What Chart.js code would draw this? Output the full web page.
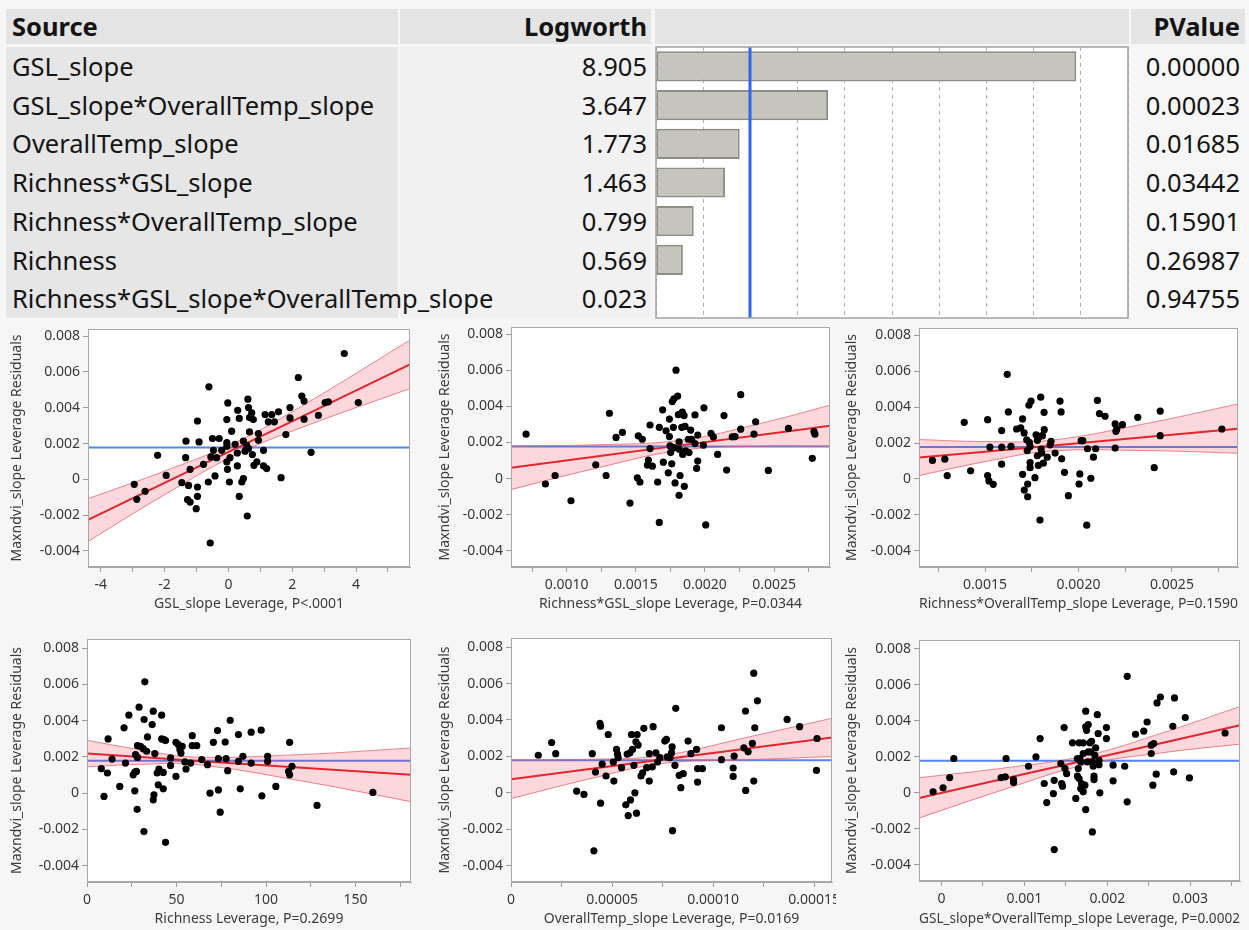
<!DOCTYPE html>
<html>
<head>
<meta charset="utf-8">
<title>Effect summary and leverage plots</title>
<script src="https://cdn.jsdelivr.net/npm/chart.js@4.4.1/dist/chart.umd.min.js"></script>
<style>
  html, body { margin: 0; padding: 0; }
  body {
    width: 1249px; height: 930px; position: relative; overflow: hidden;
    background: #f6f6f6; color: #141414;
    font-family: "Noto Sans", "Open Sans", sans-serif;
  }
  .cell { position: absolute; box-sizing: border-box; white-space: nowrap; font-size: 25.5px; }
  .head { background: #e4e4e4; font-weight: bold; }
  canvas { position: absolute; }
</style>
</head>
<body>
<div id="summary"></div>
<canvas id="logworthBars"></canvas>
<canvas id="plotGsl"></canvas>
<canvas id="plotRichGsl"></canvas>
<canvas id="plotRichTemp"></canvas>
<canvas id="plotRich"></canvas>
<canvas id="plotTemp"></canvas>
<canvas id="plotGslTemp"></canvas>
<script>
// effect summary
const sources = ['GSL_slope', 'GSL_slope*OverallTemp_slope', 'OverallTemp_slope', 'Richness*GSL_slope',
  'Richness*OverallTemp_slope', 'Richness', 'Richness*GSL_slope*OverallTemp_slope'];
const logworth = [8.905, 3.647, 1.773, 1.463, 0.799, 0.569, 0.023];
const pValues = ['0.00000', '0.00023', '0.01685', '0.03442', '0.15901', '0.26987', '0.94755'];
const logworthRef = 2;   // p = 0.01
const logworthMax = 10;

// mean of the response, drawn as the horizontal reference line
const residualMean = 0.00178;
const yTicks = [0.008, 0.006, 0.004, 0.002, 0, -0.002, -0.004];
const yTickText = ['0.008', '0.006', '0.004', '0.002', '0', '-0.002', '-0.004'];
const yTitle = 'Maxndvi_slope Leverage Residuals';

// GSL_slope
const gslX = [3.63,4.07,3.13,3.03,2.82,2.37,2.37,2.30,2.19,1.93,1.93,1.80,2.59,1.65,1.57,1.44,1.36,1.15,1.25,1.10,1.20,1.10,0.94,0.94,0.89,0.80,0.78,0.75,0.73,0.63,0.61,0.66,0.66,0.57,0.63,0.52,0.47,0.59,0.47,0.42,0.34,0.34,0.29,0.28,0.28,0.21,0.10,0.05,0.03,-0.02,-0.05,-0.05,-0.05,-0.05,-0.03,-0.21,-0.29,-0.37,-0.42,-0.47,-0.55,-0.50,-0.61,-0.63,-0.57,-0.78,-0.92,-0.97,-0.97,-0.97,-1.01,-1.20,-1.20,-1.28,-1.25,-1.33,-1.34,-1.46,-1.95,-2.22,-2.61,-2.87,-2.95];
const gslY = [0.00703,0.00429,0.00433,0.00429,0.00358,0.00336,0.00437,0.00465,0.00569,0.00401,0.00343,0.0025,0.00151,0.00009,0.00377,0.00321,0.00362,0.00362,0.00321,0.00162,0.0006,0.00075,0.00256,0.00218,0.00097,0.00078,0.00334,0.00138,0.00371,0.00401,0.00448,0.00345,0.00265,0.0019,0.00172,0.00157,0.00213,-0.00205,0.00004,-0.00015,-0.00095,0.0034,0.00386,0.00147,0.00075,0.00196,0.00269,0.00121,-0.00015,0.00427,0.00334,0.00205,0.00185,0.00097,0.00056,0.00162,0.00228,0.00121,0.00019,0.00162,0.00125,0.00228,0.00517,-0.00015,-0.00356,0.00084,0.00209,0.00326,-0.00043,-0.00095,-0.00164,0.00056,-0.00127,-0.00114,-0.00034,0.00213,0.00121,-0.00019,0.00022,0.00134,-0.00067,-0.00112,-0.00028];
const gslFitX = [-4.4, -2, 0.3, 2.5, 5.69];
const gslFit = [-0.00226, -0.0002, 0.00178, 0.00367, 0.00642];
const gslHi = [-0.00108, 0.00046, 0.00213, 0.00431, 0.00778];
const gslLo = [-0.00347, -0.00086, 0.00143, 0.00303, 0.00507];

// Richness*GSL_slope
const richGslX = [0.000706,0.000846,0.000916,0.001031,0.00121,0.001285,0.001309,0.001357,0.001403,0.001458,0.001518,0.001547,0.001511,0.00153,0.001603,0.001603,0.001591,0.001584,0.00162,0.00167,0.001658,0.00167,0.001694,0.001699,0.001719,0.001735,0.001743,0.001743,0.001748,0.001752,0.00176,0.001764,0.001776,0.001772,0.001776,0.001784,0.001791,0.001803,0.001808,0.001813,0.001815,0.001813,0.00182,0.001832,0.001837,0.001839,0.001849,0.001856,0.001851,0.001861,0.00188,0.001897,0.001885,0.001904,0.001928,0.001928,0.00194,0.001948,0.001948,0.001989,0.001993,0.002006,0.002044,0.002061,0.002092,0.002138,0.002157,0.002198,0.002218,0.002259,0.002259,0.002355,0.002367,0.002459,0.002604,0.002777,0.002789,0.002796];
const richGslY = [0.00246,-0.0003,0.00017,-0.00123,0.00076,0.00017,0.00362,0.00228,0.00256,-0.00136,0.00237,0.00218,0.00004,-0.00019,0.00297,0.00166,0.00103,0.00075,0.00069,0.00284,-0.00019,-0.00243,0.00381,0.00091,0.00265,0.00032,0.0033,0.00233,0.00181,0.00144,0.00082,0.00427,0.00442,0.00284,0.00172,-0.00024,0.00601,0.00457,0.00354,0.00203,0.00162,-0.00093,0.00017,0.00284,0.00368,0.00134,0.00349,0.00289,-0.00043,0.00153,0.00218,0.00269,0.00144,0.00218,0.00194,0.00353,0.00056,0.00097,0.00241,0.00185,0.00392,-0.00257,0.0025,0.00231,0.00134,0.00349,0.00047,0.00231,0.00233,0.00465,0.00274,0.00246,0.00315,0.00045,0.00278,0.00112,0.00261,0.00246];
const richGslFitX = [0.000597, 0.0012, 0.00182, 0.0024, 0.002905];
const richGslFit = [0.0006, 0.00121, 0.00184, 0.00242, 0.00293];
const richGslHi = [0.00181, 0.00187, 0.00212, 0.00305, 0.00407];
const richGslLo = [-0.00061, 0.00055, 0.00156, 0.00179, 0.00179];

// Richness*OverallTemp_slope
const richTempX = [0.001219,0.001285,0.001298,0.001389,0.001423,0.001514,0.001514,0.001521,0.001544,0.001526,0.001589,0.001589,0.001589,0.001619,0.001625,0.001639,0.001669,0.001691,0.001701,0.001709,0.001701,0.00171,0.001723,0.001726,0.001728,0.001728,0.001735,0.001746,0.001737,0.001741,0.001741,0.001741,0.001767,0.001773,0.00178,0.00178,0.001785,0.001794,0.001798,0.0018,0.001803,0.001807,0.001816,0.001817,0.001812,0.001833,0.001848,0.001853,0.001875,0.001901,0.001907,0.00191,0.001925,0.001946,0.002007,0.002003,0.002014,0.002023,0.002048,0.002044,0.002066,0.00208,0.002092,0.002101,0.002112,0.002142,0.002196,0.0022,0.002205,0.002196,0.002235,0.002317,0.002405,0.002437,0.002437,0.002767,0.001794];
const richTempY = [0.00103,0.0011,0.00019,0.00315,0.00045,0.0033,0.00019,-0.00011,-0.0003,0.00177,0.00269,0.00177,0.00082,0.00582,0.00373,0.00181,0.00278,0.00284,0.00334,0.00256,0.00026,-0.00062,0.00218,0.00157,-0.00099,-0.00028,0.0041,0.00433,0.00203,0.00181,0.00091,0.00063,0.00007,0.00246,0.00215,0.00129,0.00075,0.00237,0.00455,0.00166,0.00144,0.00241,0.00371,0.00274,0.00088,0.00121,0.0019,0.00209,0.00144,0.00433,0.00373,0.00112,0.00037,-0.00093,0.00028,-0.00028,0.00213,0.00213,0.00168,-0.00257,0.00004,0.00121,0.00168,0.00437,0.00364,0.00349,0.00306,0.00265,0.00278,0.00172,0.00302,0.00343,0.00063,0.00377,0.00241,0.00278,-0.00229];
const richTempFitX = [0.001147, 0.0015, 0.00185, 0.00235, 0.002853];
const richTempFit = [0.00119, 0.00152, 0.00185, 0.00232, 0.0028];
const richTempHi = [0.00219, 0.00208, 0.00215, 0.00306, 0.00417];
const richTempLo = [0.00019, 0.00096, 0.00155, 0.00158, 0.00143];

// Richness
const richX = [8.0,9.5,11.4,11.8,14.0,18.3,20.7,21.5,23.4,25.8,26.7,26.7,27.1,27.6,28.0,28.2,28.2,29.1,29.9,31.4,31.9,32.3,31.8,33.3,33.8,36.4,37.0,37.9,37.4,37.0,39.2,40.2,39.8,41.7,42.6,42.6,43.0,43.9,41.7,43.9,46.7,46.7,49.7,49.7,51.0,51.9,52.5,53.2,54.7,55.3,57.9,58.8,58.8,61.3,64.1,67.3,68.7,70.6,72.9,73.4,73.4,74.4,77.2,77.7,78.6,80.0,84.6,84.6,85.6,87.1,91.7,91.7,97.3,97.7,100.9,100.9,105.5,113.2,112.6,113.2,114.5,128.5,159.7];
const richY = [0.00135,-0.00018,0.00111,0.00299,0.00188,0.00037,0.0036,0.00166,0.0043,0.00101,0.00116,0.00013,0.00212,0.0012,-0.00089,0.00197,0.00262,0.00474,0.00258,0.00245,0.00406,0.00614,-0.00212,0.00231,0.0031,0.00378,0.00452,0.00218,-0.00009,-0.00037,0.00111,0.00133,0.00046,0.00299,0.00114,0.00024,0.00295,-0.00271,0.0043,0.0029,0.00194,0.00153,0.00092,0.0028,0.00268,0.0024,0.00221,0.00258,0.00172,0.00133,0.00166,0.00317,0.00262,0.00262,0.00185,0.00157,0,0.0028,0.00345,0.0019,0.00018,-0.00105,0.00282,0.0019,0.00124,0.00402,0.00323,0.00175,0.00024,0.00203,0.00166,0.00336,0.00347,-0.00015,0.00203,0.00175,0.00037,0.0028,0.0012,0.00101,0.00148,-0.00068,0.00004];
const richFitX = [0, 30, 60, 120, 181];
const richFit = [0.00218, 0.00199, 0.00179, 0.0014, 0.00101];
const richHi = [0.00291, 0.00239, 0.00199, 0.00213, 0.00249];
const richLo = [0.00145, 0.00159, 0.00159, 0.00067, -0.00047];

// OverallTemp_slope
const tempX = [0.0000135,0.0000201,0.0000221,0.0000325,0.0000361,0.0000402,0.0000418,0.000041,0.000044,0.0000443,0.0000451,0.0000443,0.000047,0.0000481,0.0000506,0.0000509,0.0000522,0.0000527,0.000053,0.0000547,0.0000568,0.000058,0.0000575,0.0000588,0.0000591,0.0000596,0.0000601,0.0000608,0.0000613,0.0000618,0.0000621,0.0000624,0.0000629,0.0000643,0.0000651,0.0000657,0.0000671,0.0000684,0.0000684,0.0000699,0.0000703,0.0000717,0.0000725,0.0000736,0.0000761,0.0000769,0.0000773,0.0000786,0.0000794,0.0000797,0.0000799,0.0000811,0.0000815,0.0000832,0.000084,0.0000852,0.0000876,0.000089,0.0000918,0.0000923,0.0000923,0.0000947,0.0001041,0.0001041,0.0001099,0.0001099,0.0001104,0.000116,0.0001152,0.0001161,0.0001173,0.0001194,0.0001201,0.0001206,0.0001201,0.0001219,0.0001366,0.0001428,0.0001514,0.0001511];
const tempY = [0.00206,0.00276,0.00215,0.00009,-0.00009,0.00215,0.00114,-0.00319,0.00381,0.00366,0.00157,-0.00057,0.00092,0.0032,0.00169,0.00064,0.00238,0.00212,0.00193,0.00138,-0.00066,-0.00125,0.00212,0.00219,-0.00039,0.0032,0.00238,0.00151,0,0.0028,-0.00112,0.0032,0.00262,0.00092,0.0011,0.00354,0.00138,0.00215,0.00064,0.00142,0.00363,0.00219,0.00169,0.00193,0.00284,0.00293,0.00197,0.00193,0.00219,0.00252,-0.00208,0.00151,0.00464,0.00096,0.00028,0.00105,0.00284,0.00215,0.00238,0.00059,0.00133,0.00133,0.00357,0.00182,0.00136,0.0009,0.00201,0.00449,0.00247,0.00013,0.00225,0.00271,0.00657,0.00357,0.00064,0.00505,0.00403,0.00363,0.00298,0.00123];
const tempFitX = [0, 0.000038, 0.000075, 0.000117, 0.0001588];
const tempFit = [0.00074, 0.00129, 0.00183, 0.00243, 0.00304];
const tempHi = [0.0018, 0.00184, 0.00205, 0.00305, 0.00409];
const tempLo = [-0.00032, 0.00074, 0.00161, 0.00181, 0.00199];

// GSL_slope*OverallTemp_slope
const gslTempX = [-0.0001,0.00002,0.0001,0.00015,0.00072,0.00077,0.00078,0.00087,0.00087,0.00105,0.00114,0.00119,0.00124,0.00127,0.00135,0.00136,0.00145,0.00146,0.00144,0.00148,0.00149,0.00151,0.00158,0.00162,0.00164,0.00164,0.00165,0.00166,0.00166,0.00167,0.00168,0.00168,0.00169,0.00171,0.00171,0.00171,0.00173,0.00174,0.00174,0.00174,0.00175,0.00176,0.00177,0.00177,0.00179,0.0018,0.00181,0.00182,0.00183,0.00182,0.00184,0.00184,0.00185,0.00186,0.00188,0.00189,0.0019,0.00191,0.0019,0.00199,0.00199,0.00207,0.00207,0.00136,0.00221,0.00224,0.00224,0.00234,0.00244,0.00248,0.00253,0.00253,0.00256,0.00255,0.00259,0.0026,0.00264,0.00279,0.0028,0.00281,0.00294,0.00299,0.00342];
const gslTempY = [0.00006,0.00028,0.00085,0.00191,0.00085,0.00089,0.00191,0.00074,0.00057,0.00148,0.002,0.00302,0.00052,-0.00054,-0.00004,0.0007,0.00052,0.00037,0.00163,0.00363,0.00135,0.00107,0.00278,-0.00031,0.00191,0.00093,0.00135,0.00278,0.0008,0.00191,0.00024,0.00172,0.00052,0.00278,0.00006,0.00219,0.00043,-0.00093,0.00454,0.00367,0.00348,0.00172,0.00228,0.0038,0.00278,0.00228,0.00287,0.00172,0.00148,-0.00217,0.00093,0.00074,0.00209,0.0025,0.00435,0.0033,0.00181,0,0.00157,0.00363,0.00302,0.00154,0.00067,-0.00315,0.00148,0.00648,-0.0005,0.00326,0.00343,0.00394,0.00219,0.00265,0.00274,0.00043,0.00104,0.005,0.00533,0.0037,0.00117,0.00528,0.00419,0.00083,0.00333];
const gslTempFitX = [-0.00027, 0.00075, 0.00175, 0.0027, 0.0036];
const gslTempFit = [-0.00028, 0.00078, 0.00183, 0.00282, 0.00376];
const gslTempHi = [0.00084, 0.00138, 0.00208, 0.00339, 0.0048];
const gslTempLo = [-0.0014, 0.00018, 0.00158, 0.00225, 0.00271];

Chart.defaults.font.family = '"Noto Sans", "Open Sans", sans-serif';

const TICK_SIZE = 14, TITLE_SIZE = 14;
const TICK_COLOR = '#383838', TITLE_COLOR = '#3c3c3c';

// ---------- summary table ----------
const HEAD_TOP = 9, HEAD_H = 35, ROW_TOP = 47, ROW_H = 38.7;
const cols = {
  source: { left: 6, width: 392 },
  logworth: { left: 400, width: 251 },
  bars: { left: 655, width: 474 },
  pvalue: { left: 1131, width: 114 }
};

const summary = document.getElementById('summary');
function cell(col, top, height, text, opts) {
  const d = document.createElement('div');
  d.className = 'cell' + (opts.head ? ' head' : '');
  d.style.left = col.left + 'px';
  d.style.width = col.width + 'px';
  d.style.top = top + 'px';
  d.style.height = height + 'px';
  d.style.lineHeight = height + 'px';
  d.style.textAlign = opts.align || 'left';
  if (opts.bg) d.style.background = opts.bg;
  if (opts.pad) d.style.padding = opts.pad;
  d.textContent = text;
  summary.appendChild(d);
}

cell(cols.source, HEAD_TOP, HEAD_H, 'Source', { head: true, pad: '0 0 0 6px' });
cell(cols.logworth, HEAD_TOP, HEAD_H, 'Logworth', { head: true, align: 'right', pad: '0 4px 0 0' });
cell(cols.bars, HEAD_TOP, HEAD_H, '', { head: true });
cell(cols.pvalue, HEAD_TOP, HEAD_H, 'PValue', { head: true, align: 'right', pad: '0 5px 0 0' });

const bodyH = ROW_H * sources.length;
cell(cols.source, ROW_TOP, bodyH, '', { bg: '#e6e6e6' });
cell(cols.logworth, ROW_TOP, bodyH, '', { bg: '#f1f1f1' });

sources.forEach((s, i) => {
  const top = ROW_TOP + i * ROW_H;
  cell(cols.source, top, ROW_H, s, { pad: '0 0 0 6px' });
  cell(cols.logworth, top, ROW_H, logworth[i].toFixed(3), { align: 'right', pad: '0 4px 0 0' });
  cell(cols.pvalue, top, ROW_H, pValues[i], { align: 'right', pad: '0 5px 0 0' });
});

// ---------- logworth bars ----------
const barFrame = {
  id: 'barFrame',
  beforeDraw(chart) {
    const { ctx, chartArea: a } = chart;
    ctx.save();
    ctx.fillStyle = '#ffffff';
    ctx.fillRect(a.left, a.top, a.right - a.left, a.bottom - a.top);
    ctx.restore();
  },
  afterDatasetsDraw(chart) {
    const { ctx, chartArea: a, scales: { x } } = chart;
    const px = Math.round(x.getPixelForValue(logworthRef));
    ctx.save();
    ctx.strokeStyle = '#2f66f0';
    ctx.lineWidth = 3;
    ctx.beginPath();
    ctx.moveTo(px, a.top);
    ctx.lineTo(px, a.bottom);
    ctx.stroke();
    ctx.strokeStyle = '#a2a2a2';
    ctx.lineWidth = 1.5;
    ctx.strokeRect(a.left, a.top, a.right - a.left, a.bottom - a.top);
    ctx.restore();
  }
};

const barCanvas = document.getElementById('logworthBars');
barCanvas.width = 475;
barCanvas.height = 273;
barCanvas.style.left = '655px';
barCanvas.style.top = '46px';

new Chart(barCanvas, {
  type: 'bar',
  data: {
    labels: sources,
    datasets: [{
      data: logworth,
      backgroundColor: '#c5c5bd',
      borderColor: '#8e8e87',
      borderWidth: 2,
      borderSkipped: false,
      barPercentage: 0.78,
      categoryPercentage: 1
    }]
  },
  options: {
    indexAxis: 'y',
    responsive: false,
    animation: false,
    devicePixelRatio: 1,
    events: [],
    layout: { padding: { left: 1, top: 1, right: 2, bottom: 1 } },
    plugins: { legend: { display: false }, tooltip: { enabled: false } },
    scales: {
      x: {
        min: 0,
        max: logworthMax,
        ticks: { display: false, stepSize: 1 },
        grid: { color: '#b4b4b4', drawTicks: false },
        border: { display: false, dash: [4, 4] },
        afterFit: s => { s.height = 0; }
      },
      y: { display: false }
    }
  },
  plugins: [barFrame]
});

// ---------- leverage plots ----------
const plotFrame = {
  id: 'plotFrame',
  beforeDraw(chart) {
    const { ctx, chartArea: a } = chart;
    ctx.save();
    ctx.fillStyle = '#ffffff';
    ctx.fillRect(a.left, a.top, a.right - a.left, a.bottom - a.top);
    ctx.restore();
  },
  afterDraw(chart) {
    const { ctx, chartArea: a } = chart;
    ctx.save();
    ctx.strokeStyle = '#a8a8a8';
    ctx.lineWidth = 1;
    ctx.strokeRect(a.left + 0.5, a.top + 0.5, a.right - a.left - 1, a.bottom - a.top - 1);
    ctx.restore();
  }
};

function pairs(xs, ys) {
  const n = Math.min(xs.length, ys.length);
  const out = [];
  for (let i = 0; i < n; i++) out.push({ x: xs[i], y: ys[i] });
  return out;
}

function tickText(v, values, texts) {
  const i = values.findIndex(m => Math.abs(m - v) < 1e-12);
  return i < 0 ? '' : texts[i];
}

function leveragePlot(id, p) {
  const cv = document.getElementById(id);
  cv.width = p.canvas.w;
  cv.height = p.canvas.h;
  cv.style.left = p.canvas.l + 'px';
  cv.style.top = p.canvas.t + 'px';

  const half = TITLE_SIZE * 1.2 / 2;
  const yAxisLeft = p.yTitleX - half;
  const xAxisBottom = p.xTitleY + half;
  const yW = p.area.l - yAxisLeft;
  const xH = xAxisBottom - p.area.b;
  const pad = {
    left: yAxisLeft - p.canvas.l,
    top: p.area.t - p.canvas.t,
    right: p.canvas.l + p.canvas.w - p.area.r,
    bottom: p.canvas.t + p.canvas.h - xAxisBottom
  };
  const xTickVals = p.xMajor.concat(p.xMinor).sort((a, b) => a - b);

  new Chart(cv, {
    type: 'scatter',
    data: {
      datasets: [
        {
          data: pairs(p.x, p.y),
          pointRadius: 3.6,
          pointBackgroundColor: '#000000',
          pointBorderWidth: 0,
          order: 0
        },
        {
          data: pairs(p.fitX, p.fit),
          showLine: true,
          pointRadius: 0,
          borderColor: '#e3262e',
          borderWidth: 2,
          order: 1
        },
        {
          data: pairs(p.fitX, p.hi),
          showLine: true,
          pointRadius: 0,
          tension: 0.4,
          borderColor: 'rgba(236, 96, 110, 0.75)',
          borderWidth: 1,
          fill: '+1',
          backgroundColor: 'rgba(240, 40, 60, 0.18)',
          order: 2
        },
        {
          data: pairs(p.fitX, p.lo),
          showLine: true,
          pointRadius: 0,
          tension: 0.4,
          borderColor: 'rgba(236, 96, 110, 0.75)',
          borderWidth: 1,
          order: 3
        },
        {
          data: [{ x: p.xMin, y: residualMean }, { x: p.xMax, y: residualMean }],
          showLine: true,
          pointRadius: 0,
          borderColor: '#5585ee',
          borderWidth: 2,
          order: 4
        }
      ]
    },
    options: {
      responsive: false,
      animation: false,
      devicePixelRatio: 1,
      events: [],
      layout: { padding: pad },
      plugins: { legend: { display: false }, tooltip: { enabled: false } },
      scales: {
        x: {
          type: 'linear',
          min: p.xMin,
          max: p.xMax,
          afterBuildTicks: s => { s.ticks = xTickVals.map(v => ({ value: v })); },
          afterFit: s => { s.height = xH; s.paddingLeft = 0; s.paddingRight = 0; },
          ticks: {
            autoSkip: false,
            maxRotation: 0,
            padding: 5,
            color: TICK_COLOR,
            font: { size: TICK_SIZE },
            callback: v => tickText(v, p.xMajor, p.xMajorText)
          },
          grid: { drawOnChartArea: false, tickLength: 5, tickColor: '#9b9b9b' },
          border: { color: '#a8a8a8' },
          title: { display: true, text: p.xTitle, padding: 0, color: TITLE_COLOR, font: { size: TITLE_SIZE } }
        },
        y: {
          type: 'linear',
          min: p.yMin,
          max: p.yMax,
          afterBuildTicks: s => { s.ticks = yTicks.map(v => ({ value: v })); },
          afterFit: s => { s.width = yW; s.paddingTop = 0; s.paddingBottom = 0; },
          ticks: {
            padding: 3,
            color: TICK_COLOR,
            font: { size: TICK_SIZE },
            callback: v => tickText(v, yTicks, yTickText)
          },
          grid: { drawOnChartArea: false, tickLength: 5, tickColor: '#9b9b9b' },
          border: { color: '#a8a8a8' },
          title: { display: true, text: yTitle, padding: 0, color: TITLE_COLOR, font: { size: TITLE_SIZE } }
        }
      }
    },
    plugins: [plotFrame]
  });
}

leveragePlot('plotGsl', {
  canvas: { l: 0, t: 316, w: 418, h: 300 }, area: { l: 88, r: 410, t: 329, b: 567 },
  yTitleX: 17, xTitleY: 604,
  x: gslX, y: gslY, fitX: gslFitX, fit: gslFit, hi: gslHi, lo: gslLo,
  xMin: -4.4, xMax: 5.69, yMin: -0.0049, yMax: 0.0084,
  xMajor: [-4, -2, 0, 2, 4], xMajorText: ['-4', '-2', '0', '2', '4'], xMinor: [-3, -1, 1, 3, 5],
  xTitle: 'GSL_slope Leverage, P<.0001'
});

leveragePlot('plotRichGsl', {
  canvas: { l: 420, t: 316, w: 414, h: 300 }, area: { l: 511, r: 830, t: 327, b: 567 },
  yTitleX: 445, xTitleY: 604,
  x: richGslX, y: richGslY, fitX: richGslFitX, fit: richGslFit, hi: richGslHi, lo: richGslLo,
  xMin: 0.000597, xMax: 0.002905, yMin: -0.0049, yMax: 0.0084,
  xMajor: [0.001, 0.0015, 0.002, 0.0025], xMajorText: ['0.0010', '0.0015', '0.0020', '0.0025'],
  xMinor: [0.00075, 0.00125, 0.00175, 0.00225, 0.00275],
  xTitle: 'Richness*GSL_slope Leverage, P=0.0344'
});

leveragePlot('plotRichTemp', {
  canvas: { l: 835, t: 316, w: 414, h: 300 }, area: { l: 919, r: 1238, t: 328, b: 567 },
  yTitleX: 852, xTitleY: 604,
  x: richTempX, y: richTempY, fitX: richTempFitX, fit: richTempFit, hi: richTempHi, lo: richTempLo,
  xMin: 0.001147, xMax: 0.002853, yMin: -0.0049, yMax: 0.0084,
  xMajor: [0.0015, 0.002, 0.0025], xMajorText: ['0.0015', '0.0020', '0.0025'],
  xMinor: [0.00125, 0.00175, 0.00225, 0.00275],
  xTitle: 'Richness*OverallTemp_slope Leverage, P=0.1590'
});

leveragePlot('plotRich', {
  canvas: { l: 0, t: 626, w: 418, h: 304 }, area: { l: 87, r: 411, t: 639, b: 882 },
  yTitleX: 17, xTitleY: 919,
  x: richX, y: richY, fitX: richFitX, fit: richFit, hi: richHi, lo: richLo,
  xMin: 0, xMax: 181, yMin: -0.0049, yMax: 0.0085,
  xMajor: [0, 50, 100, 150], xMajorText: ['0', '50', '100', '150'], xMinor: [25, 75, 125, 175],
  xTitle: 'Richness Leverage, P=0.2699'
});

leveragePlot('plotTemp', {
  canvas: { l: 420, t: 626, w: 416, h: 304 }, area: { l: 511, r: 832, t: 638, b: 882 },
  yTitleX: 445, xTitleY: 919,
  x: tempX, y: tempY, fitX: tempFitX, fit: tempFit, hi: tempHi, lo: tempLo,
  xMin: 0, xMax: 0.0001588, yMin: -0.0049, yMax: 0.0085,
  xMajor: [0, 0.00005, 0.0001, 0.00015], xMajorText: ['0', '0.00005', '0.00010', '0.00015'],
  xMinor: [0.000025, 0.000075, 0.000125],
  xTitle: 'OverallTemp_slope Leverage, P=0.0169'
});

leveragePlot('plotGslTemp', {
  canvas: { l: 835, t: 626, w: 414, h: 304 }, area: { l: 919, r: 1240, t: 640, b: 881 },
  yTitleX: 852, xTitleY: 919,
  x: gslTempX, y: gslTempY, fitX: gslTempFitX, fit: gslTempFit, hi: gslTempHi, lo: gslTempLo,
  xMin: -0.00027, xMax: 0.0036, yMin: -0.0049, yMax: 0.0085,
  xMajor: [0, 0.001, 0.002, 0.003], xMajorText: ['0', '0.001', '0.002', '0.003'],
  xMinor: [0.0005, 0.0015, 0.0025, 0.0035],
  xTitle: 'GSL_slope*OverallTemp_slope Leverage, P=0.0002'
});
</script>
</body>
</html>
